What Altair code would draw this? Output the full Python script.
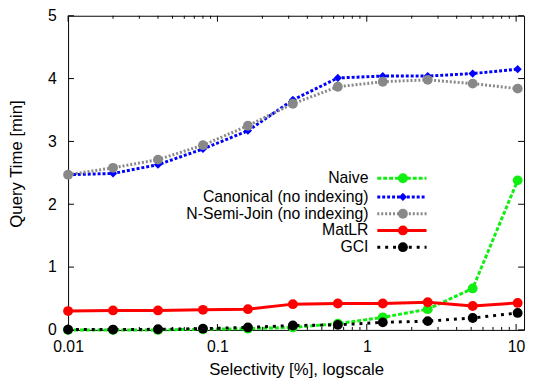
import altair as alt
import pandas as pd

# ---- data ----
selectivity = [0.01, 0.02, 0.04, 0.08, 0.16, 0.32, 0.64, 1.28, 2.56, 5.12, 10.24]
naive = [0.0, 0.0, 0.0, 0.01, 0.02, 0.04, 0.10, 0.20, 0.33, 0.66, 2.38]
canonical = [2.47, 2.49, 2.63, 2.88, 3.17, 3.66, 4.01, 4.04, 4.04, 4.08, 4.15]
nsemijoin = [2.47, 2.58, 2.71, 2.94, 3.25, 3.60, 3.87, 3.95, 3.98, 3.92, 3.84]
matlr = [0.30, 0.31, 0.31, 0.32, 0.33, 0.41, 0.42, 0.42, 0.44, 0.38, 0.43]
gci = [0.005, 0.005, 0.01, 0.02, 0.04, 0.07, 0.08, 0.12, 0.14, 0.19, 0.27]

series_names = ["Naive", "Canonical (no indexing)", "N-Semi-Join (no indexing)", "MatLR", "GCI"]
series_values = [naive, canonical, nsemijoin, matlr, gci]
series_colors = ["#11ee11", "#0000ff", "#888888", "#ff0000", "#000000"]
series_dash = [[4, 2], [3, 2], [2, 2], [1, 0], [3, 5]]
series_shape = ["circle", "diamond", "circle", "circle", "circle"]
series_size = [100, 70, 100, 100, 100]

x_major = [0.01, 0.1, 1, 10]
x_minor = [m * d for d in [0.01, 0.1, 1] for m in range(2, 10)]
y_ticks = [0, 1, 2, 3, 4, 5]

W, H = 463, 319
FONT = "Liberation Sans"

xscale = alt.Scale(type="log", domain=[0.01, 11.3], nice=False)
yscale = alt.Scale(domain=[0, 5], nice=False, zero=False)

x_axis = alt.Axis(values=x_major, format="~g", ticks=False, tickSize=0, domain=False, grid=False,
                  labelFontSize=16, labelPadding=9, labelFlush=False, labelOverlap=False,
                  labelColor="black", labelFont=FONT, title="Selectivity [%], logscale",
                  titleFontSize=17, titleFont=FONT,
                  titleFontWeight="normal", titleColor="black", titleBaseline="alphabetic", titleY=45)
y_axis = alt.Axis(values=y_ticks, format="d", ticks=False, tickSize=0, domain=False, grid=False,
                  labelFontSize=16, labelPadding=12, labelColor="black", labelFont=FONT,
                  title="Query Time [min]", titleFontSize=17, titleFontWeight="normal", titleFont=FONT,
                  titleColor="black", titleBaseline="alphabetic", titleX=-47, titleY=150)


def X():
    return alt.X("x:Q", scale=xscale, axis=x_axis)


def Y():
    return alt.Y("y:Q", scale=yscale, axis=y_axis)


layers = []
for name, vals, col, dash, shp, sz in zip(series_names, series_values, series_colors,
                                          series_dash, series_shape, series_size):
    df = pd.DataFrame({"x": selectivity, "y": vals})
    line_kw = dict(color=col, strokeWidth=3)
    if dash != [1, 0]:
        line_kw["strokeDash"] = dash
    line = alt.Chart(df).mark_line(**line_kw).encode(x=X(), y=Y())
    pts = alt.Chart(df).mark_point(filled=True, opacity=1, color=col, shape=shp, size=sz).encode(
        x=X(), y=Y())
    layers += [line, pts]

# inward ticks (gnuplot style, mirrored)
xmaj = pd.DataFrame({"x": x_major})
xmin = pd.DataFrame({"x": x_minor})
ydf = pd.DataFrame({"y": y_ticks})
tick_layers = [
    alt.Chart(xmaj).mark_rule(color="black").encode(x=X(), y=alt.value(H), y2=alt.value(H - 6)),
    alt.Chart(xmaj).mark_rule(color="black").encode(x=X(), y=alt.value(0), y2=alt.value(6)),
    alt.Chart(xmin).mark_rule(color="black").encode(x=X(), y=alt.value(H), y2=alt.value(H - 3)),
    alt.Chart(xmin).mark_rule(color="black").encode(x=X(), y=alt.value(0), y2=alt.value(3)),
    alt.Chart(ydf).mark_rule(color="black").encode(y=Y(), x=alt.value(0), x2=alt.value(6)),
    alt.Chart(ydf).mark_rule(color="black").encode(y=Y(), x=alt.value(W), x2=alt.value(W - 6)),
]

# legend (label left, sample right, like gnuplot)
legend_layers = []
row_y = [165, 184, 201, 218, 235]
dummy = pd.DataFrame({"d": [0]})
for name, col, dash, shp, sz, ry in zip(series_names, series_colors, series_dash,
                                        series_shape, series_size, row_y):
    legend_layers.append(alt.Chart(dummy).mark_text(align="right", baseline="middle", fontSize=16,
                                                    font=FONT, color="black").encode(
        x=alt.value(305), y=alt.value(ry), text=alt.value(name)))
    rk = dict(color=col, strokeWidth=3)
    if dash != [1, 0]:
        rk["strokeDash"] = dash
    legend_layers.append(alt.Chart(dummy).mark_rule(**rk).encode(
        x=alt.value(314), x2=alt.value(364), y=alt.value(ry)))
    legend_layers.append(alt.Chart(dummy).mark_point(filled=True, opacity=1, color=col, shape=shp,
                                                     size=sz).encode(x=alt.value(340), y=alt.value(ry)))

chart = alt.layer(*(layers + tick_layers + legend_layers)).properties(
    width=W, height=H,
    background="white",
    autosize=alt.AutoSizeParams(type="none"),
    padding={"left": 61, "top": 5, "right": 3, "bottom": 49},
).configure_view(stroke="black", strokeWidth=1)

chart.save("out.html", embed_options={"renderer": "svg", "actions": False})
